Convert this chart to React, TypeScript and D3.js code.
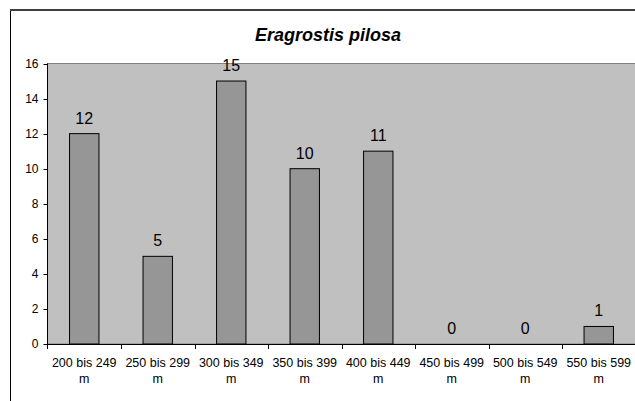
import React from "react";
import * as d3 from "d3";

const categories = [
  "200 bis 249 m",
  "250 bis 299 m",
  "300 bis 349 m",
  "350 bis 399 m",
  "400 bis 449 m",
  "450 bis 499 m",
  "500 bis 549 m",
  "550 bis 599 m",
];
const values = [12, 5, 15, 10, 11, 0, 0, 1];
const yTicks = [0, 2, 4, 6, 8, 10, 12, 14, 16];
const title = "Eragrostis pilosa";

const W = 635;
const H = 401;
const plot = { left: 47.5, right: 635.5, top: 63.5, bottom: 344 };

export default function App() {
  const x = d3
    .scaleBand<string>()
    .domain(categories)
    .range([plot.left, plot.right])
    .paddingInner(0.6)
    .paddingOuter(0.3);
  const xb = d3.scaleBand<string>().domain(categories).range([plot.left, plot.right]);
  const y = d3.scaleLinear().domain([0, 16]).range([plot.bottom, plot.top]);
  const font = "Arial, 'Liberation Sans', sans-serif";

  return (
    <svg
      width={W}
      height={H}
      style={{ position: "absolute", left: 0, top: 0, background: "#fff" }}
      fontFamily={font}
    >
      <rect x={10.5} y={9.5} width={W + 20} height={H + 20} fill="#fff" stroke="#000" strokeWidth={1} />
      <line x1={10} x2={W} y1={10} y2={10} stroke="#404040" strokeWidth={2} />
      <text
        x={328}
        y={41}
        textAnchor="middle"
        fontSize={18}
        fontWeight="bold"
        fontStyle="italic"
        fill="#000"
      >
        {title}
      </text>
      <rect
        x={plot.left}
        y={plot.top}
        width={plot.right - plot.left}
        height={plot.bottom - plot.top}
        fill="#C0C0C0"
        stroke="#808080"
        strokeWidth={1}
      />
      {categories.map((c, i) => (
        <g key={c}>
          {values[i] > 0 && (
            <rect
              x={x(c)}
              y={y(values[i])}
              width={x.bandwidth()}
              height={y(0) - y(values[i])}
              fill="#969696"
              stroke="#000"
              strokeWidth={1}
            />
          )}
          <text
            x={(x(c) as number) + x.bandwidth() / 2}
            y={y(values[i]) - 10}
            textAnchor="middle"
            fontSize={16}
            fill="#000"
          >
            {values[i]}
          </text>
          <text
            x={(xb(c) as number) + xb.bandwidth() / 2}
            y={367}
            textAnchor="middle"
            fontSize={12.5}
            fill="#000"
          >
            {c.replace(/ m$/, "")}
          </text>
          <text
            x={(xb(c) as number) + xb.bandwidth() / 2}
            y={383}
            textAnchor="middle"
            fontSize={12.5}
            fill="#000"
          >
            m
          </text>
        </g>
      ))}
      {/* x axis */}
      <line x1={plot.left} x2={plot.right} y1={plot.bottom + 0.5} y2={plot.bottom + 0.5} stroke="#000" />
      {categories.map((c, i) =>
        i > 0 ? (
          <line
            key={"t" + c}
            x1={Math.round(xb(c) as number) + 0.5}
            x2={Math.round(xb(c) as number) + 0.5}
            y1={plot.bottom}
            y2={plot.bottom + 5}
            stroke="#000"
          />
        ) : null
      )}
      {/* y axis */}
      <line x1={plot.left} x2={plot.left} y1={plot.top} y2={plot.bottom + 5} stroke="#000" />
      {yTicks.map((t) => (
        <g key={"y" + t}>
          <line x1={plot.left - 4} x2={plot.left} y1={Math.round(y(t)) + 0.5} y2={Math.round(y(t)) + 0.5} stroke="#000" />
          <text x={38.5} y={y(t) + 4.3} textAnchor="end" fontSize={12} fill="#000">
            {t}
          </text>
        </g>
      ))}
    </svg>
  );
}
